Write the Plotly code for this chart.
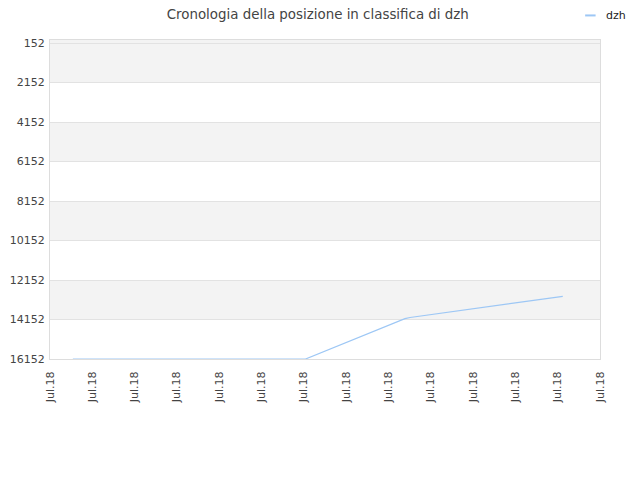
#!/usr/bin/env python3
"""Ranking history chart for dzh (Plotly recreation)."""

import plotly.graph_objects as go

# data
TICK_POS = list(range(14))
TICK_LABELS = ["Jul.18"] * 14
DAY = [0.54, 6.04, 8.39, 8.51, 12.12]
RANK = [16152, 16152, 14111, 14050, 12982]
Y_TICKS = [152, 2152, 4152, 6152, 8152, 10152, 12152, 14152, 16152]
Y_LABELS = [str(v) for v in Y_TICKS]
BANDS = [(0, 2152), (4152, 6152), (8152, 10152), (12152, 14152)]
SERIES_NAME = "dzh"

FONT = "DejaVu Sans"
LINE_COLOR = "#9dc7f5"

fig = go.Figure()
fig.add_trace(
    go.Scatter(
        x=DAY,
        y=RANK,
        mode="lines",
        name=SERIES_NAME,
        line={"color": LINE_COLOR, "width": 1.2},
        showlegend=False,
    )
)

for low, high in BANDS:
    fig.add_shape(
        type="rect",
        xref="paper",
        yref="y",
        x0=0,
        x1=1,
        y0=low,
        y1=high,
        fillcolor="#f3f3f3",
        line={"width": 0},
        layer="below",
    )

# small legend key, top right
fig.add_shape(
    type="line",
    xref="paper",
    yref="paper",
    x0=0.973,
    x1=0.992,
    y0=1.077,
    y1=1.077,
    line={"color": LINE_COLOR, "width": 2},
)
fig.add_annotation(
    text=SERIES_NAME,
    xref="paper",
    yref="paper",
    x=1.007,
    y=1.078,
    xanchor="left",
    yanchor="middle",
    showarrow=False,
    font={"family": FONT, "size": 11, "color": "#222"},
)

fig.update_layout(
    width=640,
    height=480,
    margin={"l": 42, "r": 48, "t": 32, "b": 129, "autoexpand": False},
    paper_bgcolor="white",
    plot_bgcolor="white",
    font={"family": FONT, "size": 11, "color": "#444"},
    title={
        "text": "Cronologia della posizione in classifica di dzh",
        "x": 0.484,
        "xanchor": "center",
        "y": 0.986,
        "yanchor": "middle",
        "font": {"family": FONT, "size": 13.4, "color": "#444"},
    },
    xaxis={
        "range": [0, 13],
        "tickvals": TICK_POS,
        "ticktext": TICK_LABELS,
        "tickangle": -90,
        "showgrid": False,
        "zeroline": False,
        "showline": True,
        "linecolor": "#dddddd",
        "mirror": True,
        "ticks": "",
        "ticklabelstandoff": 7,
        "tickfont": {"size": 11, "color": "#444"},
    },
    yaxis={
        "range": [16152, 0],
        "tickvals": Y_TICKS,
        "ticktext": Y_LABELS,
        "showgrid": True,
        "gridcolor": "#e2e2e2",
        "zeroline": False,
        "showline": True,
        "linecolor": "#dddddd",
        "mirror": True,
        "ticks": "",
        "ticklabelstandoff": 2,
        "tickfont": {"size": 11, "color": "#444"},
    },
)

fig.write_html("out.html")
